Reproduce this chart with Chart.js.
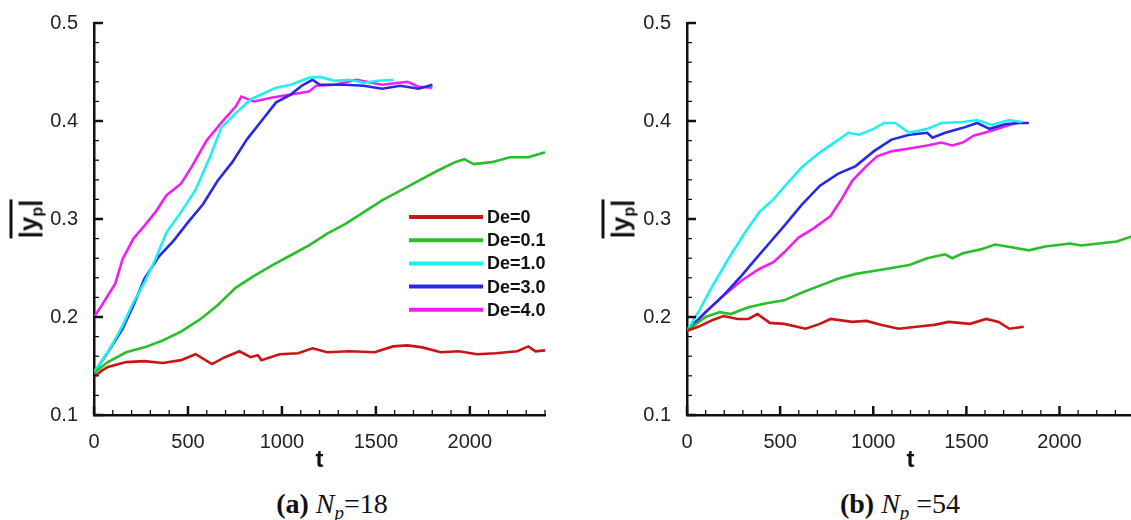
<!DOCTYPE html>
<html lang="en">
<head>
<meta charset="UTF-8">
<title>|y_p| versus t</title>
<style>
  html, body { margin: 0; padding: 0; background: #fff; overflow: hidden; }
  #page { position: relative; width: 1131px; height: 520px; overflow: hidden; }
  canvas { position: absolute; top: 0; }
  #chartA { left: 0; }
  #chartB { left: 593px; }
  .ytitle {
    position: absolute;
    font: bold 26px "Liberation Sans", Arial, sans-serif;
    color: #111;
    white-space: nowrap;
    transform: translate(-50%, -50%) rotate(-90deg);
  }
  .ytitle span { border-top: 3px solid #111; padding-top: 1px; }
  .ytitle sub { font-size: 16px; vertical-align: -5px; }
  .caption {
    position: absolute;
    top: 490px;
    width: 300px;
    text-align: center;
    font: 28px/28px "Liberation Serif", "Times New Roman", serif;
    color: #111;
  }
  .caption sub { font-size: 19px; vertical-align: -6px; }
</style>
</head>
<body>
<div id="page">
  <canvas id="chartA" width="566" height="480"></canvas>
  <canvas id="chartB" width="541" height="480"></canvas>
  <div class="ytitle" style="left:30px; top:219px;"><span>|y<sub>p</sub>|</span></div>
  <div class="ytitle" style="left:622px; top:219px;"><span>|y<sub>p</sub>|</span></div>
  <div class="caption" style="left:182px;"><b>(a)</b> <i>N<sub>p</sub></i>=18</div>
  <div class="caption" style="left:750px;"><b>(b)</b> <i>N<sub>p</sub></i> =54</div>
</div>

<script src="https://cdn.jsdelivr.net/npm/chart.js"></script>
<script>
const xTicks = [0, 500, 1000, 1500, 2000];
const yTicks = [0.1, 0.2, 0.3, 0.4, 0.5];
const tMax = 2400;
const seriesLabels = ['De=0', 'De=0.1', 'De=1.0', 'De=3.0', 'De=4.0'];
const seriesColors = ['#c81616', '#2abe2a', '#1ef0f0', '#2828e6', '#f01ef0'];

// panel (a), Np = 18 : [t, |y_p|]
const a_De0 = [[0,0.139],[40,0.145],[74,0.149],[171,0.154],[268,0.155],[366,0.153],[463,0.156],[541,0.162],[628,0.152],[697,0.159],[774,0.165],[833,0.159],[872,0.161],[891,0.156],[988,0.162],[1086,0.163],[1163,0.168],[1241,0.164],[1358,0.165],[1494,0.164],[1591,0.170],[1669,0.171],[1747,0.169],[1845,0.164],[1942,0.165],[2039,0.162],[2137,0.163],[2253,0.165],[2311,0.170],[2350,0.165],[2400,0.166]];
const a_De01 = [[0,0.143],[74,0.154],[171,0.164],[268,0.169],[366,0.176],[463,0.185],[560,0.197],[658,0.212],[755,0.230],[852,0.242],[950,0.253],[1047,0.263],[1144,0.273],[1241,0.285],[1338,0.295],[1436,0.307],[1533,0.319],[1630,0.329],[1727,0.339],[1825,0.349],[1922,0.358],[1971,0.361],[2020,0.356],[2117,0.358],[2214,0.363],[2311,0.363],[2400,0.368]];
const a_De1 = [[0,0.144],[74,0.164],[152,0.191],[210,0.215],[268,0.235],[327,0.259],[385,0.286],[463,0.307],[541,0.330],[619,0.364],[677,0.393],[755,0.408],[833,0.422],[891,0.427],[969,0.434],[1047,0.437],[1144,0.444],[1202,0.445],[1280,0.441],[1358,0.442],[1436,0.439],[1514,0.441],[1591,0.442]];
const a_De3 = [[0,0.143],[74,0.164],[152,0.188],[210,0.212],[268,0.239],[346,0.262],[424,0.278],[502,0.297],[580,0.315],[658,0.339],[736,0.358],[813,0.381],[891,0.400],[969,0.419],[1047,0.427],[1105,0.436],[1163,0.442],[1202,0.437],[1338,0.437],[1436,0.436],[1533,0.433],[1630,0.436],[1727,0.433],[1801,0.437]];
const a_De4 = [[0,0.200],[35,0.210],[74,0.222],[113,0.234],[152,0.259],[210,0.280],[268,0.293],[327,0.307],[385,0.324],[463,0.336],[522,0.354],[599,0.380],[677,0.398],[755,0.415],[784,0.425],[852,0.420],[950,0.424],[1047,0.427],[1144,0.430],[1183,0.436],[1280,0.437],[1397,0.442],[1533,0.437],[1669,0.440],[1727,0.435],[1801,0.434]];

// panel (b), Np = 54
const b_De0 = [[0,0.186],[61,0.190],[138,0.197],[196,0.201],[272,0.198],[330,0.198],[378,0.203],[445,0.194],[522,0.193],[637,0.188],[714,0.193],[771,0.198],[887,0.195],[963,0.196],[1040,0.192],[1136,0.188],[1232,0.190],[1328,0.192],[1405,0.195],[1520,0.193],[1606,0.198],[1673,0.195],[1731,0.188],[1808,0.190]];
const b_De01 = [[0,0.186],[100,0.200],[177,0.205],[234,0.203],[330,0.210],[426,0.214],[522,0.217],[618,0.225],[714,0.232],[810,0.239],[906,0.244],[1002,0.247],[1098,0.250],[1194,0.253],[1290,0.260],[1386,0.264],[1424,0.260],[1481,0.265],[1577,0.269],[1654,0.274],[1750,0.271],[1836,0.268],[1923,0.272],[2057,0.275],[2115,0.273],[2211,0.275],[2307,0.277],[2400,0.283]];
const b_De1 = [[0,0.186],[61,0.205],[138,0.232],[234,0.263],[311,0.286],[388,0.307],[464,0.320],[541,0.337],[618,0.353],[714,0.368],[791,0.378],[867,0.388],[925,0.386],[1002,0.392],[1059,0.398],[1117,0.398],[1194,0.388],[1290,0.392],[1366,0.398],[1481,0.399],[1558,0.401],[1635,0.396],[1731,0.401],[1798,0.399]];
const b_De3 = [[0,0.186],[100,0.205],[196,0.222],[292,0.242],[368,0.259],[445,0.276],[522,0.293],[618,0.315],[714,0.334],[810,0.346],[906,0.354],[1002,0.369],[1098,0.381],[1194,0.386],[1290,0.388],[1318,0.383],[1386,0.388],[1481,0.393],[1558,0.398],[1625,0.392],[1712,0.397],[1788,0.398],[1836,0.398]];
const b_De4 = [[0,0.186],[100,0.205],[196,0.222],[292,0.237],[388,0.249],[464,0.256],[522,0.266],[599,0.281],[676,0.290],[771,0.303],[829,0.320],[887,0.339],[963,0.354],[1021,0.364],[1098,0.369],[1194,0.372],[1290,0.375],[1366,0.378],[1424,0.375],[1481,0.378],[1539,0.385],[1635,0.390],[1731,0.396],[1792,0.399]];

const family = '"Liberation Sans", Arial, sans-serif';

// inward major/minor tick marks, placed with the chart's own scales
const axisTicks = {
  id: 'axisTicks',
  afterDraw(chart) {
    const {ctx, chartArea, scales: {x, y}} = chart;
    ctx.save();
    ctx.strokeStyle = '#111';
    for (let i = 0; i * 100 <= tMax; i++) {
      const px = x.getPixelForValue(i * 100);
      const major = i % 5 === 0;
      ctx.lineWidth = major ? 2.5 : 1.3;
      ctx.beginPath();
      ctx.moveTo(px, chartArea.bottom);
      ctx.lineTo(px, chartArea.bottom - (major ? 9 : 5));
      ctx.stroke();
    }
    for (let i = 0; i <= 20; i++) {
      const py = y.getPixelForValue(0.1 + i * 0.02);
      const major = i % 5 === 0;
      ctx.lineWidth = major ? 2.5 : 1.3;
      ctx.beginPath();
      ctx.moveTo(chartArea.left, py);
      ctx.lineTo(chartArea.left + (major ? 9 : 5), py);
      ctx.stroke();
    }
    ctx.restore();
  }
};

// legend drawn inside the plot, like the original figure
const lineLegend = {
  id: 'lineLegend',
  afterDraw(chart, args, opts) {
    if (!opts.show) return;
    const ctx = chart.ctx;
    ctx.save();
    ctx.font = 'bold 18px ' + family;
    ctx.textBaseline = 'middle';
    chart.data.datasets.forEach((ds, i) => {
      const yy = opts.top + i * opts.rowGap;
      ctx.strokeStyle = ds.borderColor;
      ctx.lineWidth = 4;
      ctx.beginPath();
      ctx.moveTo(opts.left, yy);
      ctx.lineTo(opts.left + opts.lineLen, yy);
      ctx.stroke();
      ctx.fillStyle = '#111';
      ctx.fillText(ds.label, opts.left + opts.lineLen + 4, yy + 1);
    });
    ctx.restore();
  }
};

function makePanel(canvasId, series, padRight, legendOpts) {
  return new Chart(document.getElementById(canvasId), {
    type: 'line',
    data: {
      datasets: series.map((pts, i) => ({
        label: seriesLabels[i],
        data: pts.map(p => ({x: p[0], y: p[1]})),
        borderColor: seriesColors[i],
        backgroundColor: seriesColors[i],
        borderWidth: 2.6,
        pointRadius: 0,
        fill: false,
        tension: 0
      }))
    },
    options: {
      responsive: false,
      animation: false,
      layout: {padding: {top: 23, right: padRight, bottom: 0, left: 0}},
      scales: {
        x: {
          type: 'linear',
          min: 0,
          max: tMax,
          afterBuildTicks: s => { s.ticks = xTicks.map(v => ({value: v})); },
          afterFit: s => { s.height = 65; },
          grid: {display: false},
          border: {display: true, color: '#111', width: 2.5},
          ticks: {
            font: {size: 20, family},
            color: '#222',
            padding: 7,
            maxRotation: 0,
            autoSkip: false,
            callback: v => String(v)
          },
          title: {
            display: true,
            text: 't',
            font: {size: 24, weight: 'bold', family},
            color: '#111',
            padding: {top: 0, bottom: 5}
          }
        },
        y: {
          type: 'linear',
          min: 0.1,
          max: 0.5,
          afterBuildTicks: s => { s.ticks = yTicks.map(v => ({value: v})); },
          afterFit: s => { s.width = 94; },
          grid: {display: false},
          border: {display: true, color: '#111', width: 2.5},
          ticks: {
            font: {size: 20, family},
            color: '#222',
            padding: 8,
            callback: v => v.toFixed(1)
          }
        }
      },
      plugins: {
        legend: {display: false},
        tooltip: {enabled: false},
        lineLegend: legendOpts
      }
    },
    plugins: [axisTicks, lineLegend]
  });
}

makePanel('chartA', [a_De0, a_De01, a_De1, a_De3, a_De4], 21,
  {show: true, left: 409, top: 217, rowGap: 23.2, lineLen: 74});
makePanel('chartB', [b_De0, b_De01, b_De1, b_De3, b_De4], 0, {show: false});
</script>
</body>
</html>
